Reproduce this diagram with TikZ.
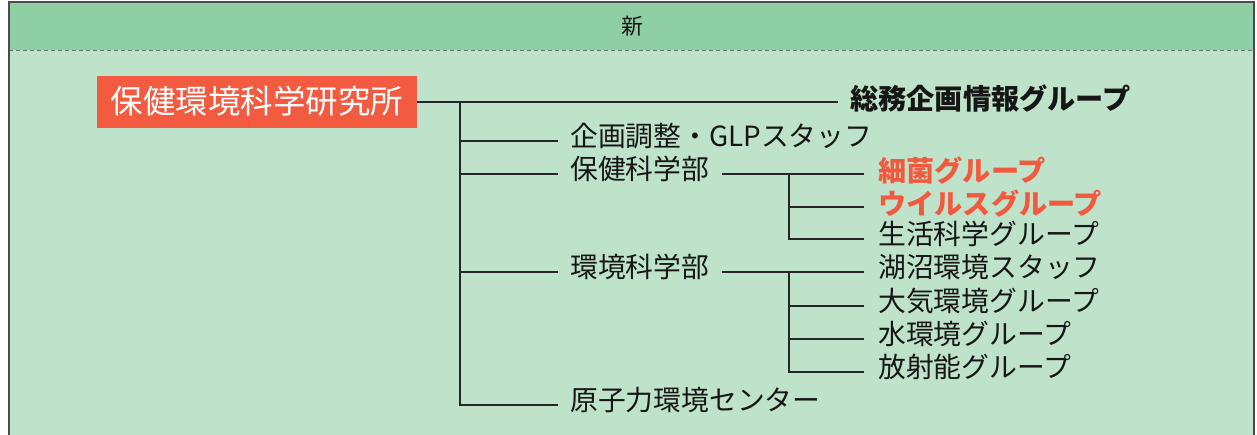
\documentclass[tikz,border=0pt]{standalone}
\usepackage{fontspec}
\setmainfont{Noto Sans CJK JP}
\usetikzlibrary{calc}
\definecolor{headc}{HTML}{8ECFA6}
\definecolor{bodyc}{HTML}{BFE3CA}
\definecolor{framec}{HTML}{4A4A4A}
\definecolor{redc}{HTML}{F25B40}
\definecolor{redt}{HTML}{F25A3F}
\definecolor{txt}{HTML}{161616}
\begin{document}
\begin{tikzpicture}[x=1pt,y=-1pt,
  lbl/.style={anchor=west,inner sep=0pt,text=txt,font=\fontsize{27.8}{30}\selectfont,text height=1.18em,text depth=0.02em},
  boldlbl/.style={anchor=west,inner sep=0pt,text=txt,font=\fontsize{28.2}{30}\selectfont\bfseries,text height=1.49em,text depth=0.02em},
  redlbl/.style={boldlbl,text=redt},
  ln/.style={draw=black!85,line width=1.3pt}]
\useasboundingbox (0,0) rectangle (1257,434);
% panel
\fill[bodyc] (9,2) rectangle (1254,440);
\fill[headc] (9,2) rectangle (1254,50);
\draw[framec!80,line width=1pt,dash pattern=on 4pt off 3pt] (9,50) -- (1254,50);
\draw[framec,line width=2pt] (9,440) -- (9,2) -- (1254,2) -- (1254,440);
\node[inner sep=0pt,text=txt,font=\fontsize{22}{24}\selectfont] (hdr) at (632.5,26.5) {新};
% root
\node[fill=redc,text=white,inner sep=0pt,minimum width=320pt,minimum height=52pt,
      font=\fontsize{32.5}{36}\selectfont] (root) at (257,101.5) {保健環境科学研究所};
% first level
\node[boldlbl] (soumu) at (850,102) {総務企画情報グループ};
\node[lbl] (kikaku) at (570,141) {企画調整・GLPスタッフ};
\node[lbl] (hoken) at (570,174) {保健科学部};
\node[lbl] (kankyo) at (570,272) {環境科学部};
\node[lbl] (gen) at (570,405) {原子力環境センター};
% second level (hoken)
\node[redlbl] (saikin) at (878,174) {細菌グループ};
\node[redlbl] (virus) at (878,207) {ウイルスグループ};
\node[lbl] (seikatsu) at (878,239) {生活科学グループ};
% second level (kankyo)
\node[lbl] (kosho) at (878,272) {湖沼環境スタッフ};
\node[lbl] (taiki) at (878,306) {大気環境グループ};
\node[lbl] (mizu) at (878,339) {水環境グループ};
\node[lbl] (hoshano) at (878,372) {放射能グループ};
% junction coordinates
\coordinate (trunk) at (460,102);
\coordinate (hj) at (789,174);
\coordinate (kj) at (789,272);
% connectors level 1
\draw[ln] ($(root.east)+(0,0.5)$) -- ($(soumu.west)+(-12,0)$);
\draw[ln] (trunk) -- (trunk |- gen.west) -- ($(gen.west)+(-12,0)$);
\draw[ln] (trunk |- kikaku.west) -- ($(kikaku.west)+(-12,0)$);
\draw[ln] (trunk |- hoken.west) -- ($(hoken.west)+(-12,0)$);
\draw[ln] (trunk |- kankyo.west) -- ($(kankyo.west)+(-12,0)$);
% connectors hoken
\draw[ln] ($(hoken.east)+(13,0)$) -- ($(saikin.west)+(-14,0)$);
\draw[ln] (hj) -- (hj |- seikatsu.west) -- ($(seikatsu.west)+(-14,0)$);
\draw[ln] (hj |- virus.west) -- ($(virus.west)+(-14,0)$);
% connectors kankyo
\draw[ln] ($(kankyo.east)+(13,0)$) -- ($(kosho.west)+(-14,0)$);
\draw[ln] (kj) -- (kj |- hoshano.west) -- ($(hoshano.west)+(-14,0)$);
\draw[ln] (kj |- taiki.west) -- ($(taiki.west)+(-14,0)$);
\draw[ln] (kj |- mizu.west) -- ($(mizu.west)+(-14,0)$);
\end{tikzpicture}
\end{document}
